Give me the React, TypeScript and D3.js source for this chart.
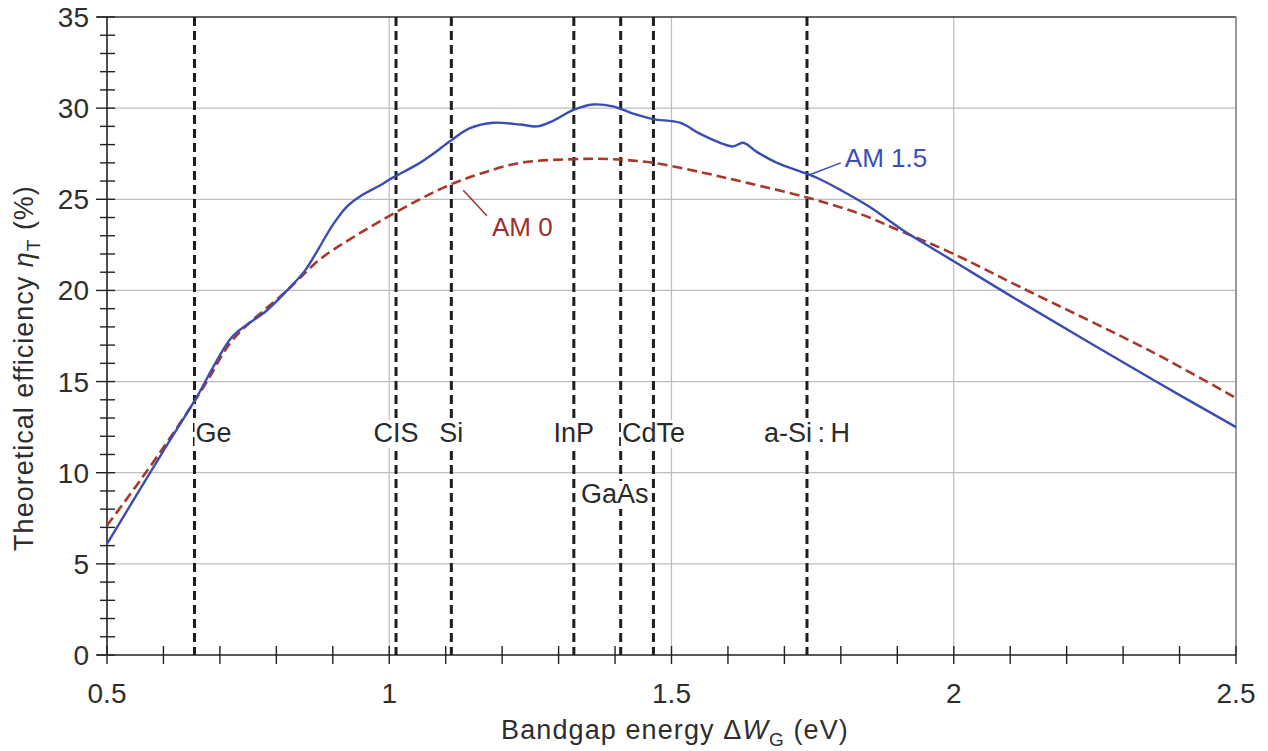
import React, { useRef, useEffect } from 'react';
import * as d3 from 'd3';

// AM 1.5 (solid blue)
const am15Energy = [0.5, 0.6, 0.66, 0.69, 0.723, 0.783, 0.819, 0.851, 0.875, 0.9, 0.925, 0.95, 0.98, 1.007, 1.049, 1.078, 1.108, 1.143, 1.184, 1.232, 1.262, 1.29, 1.326, 1.361, 1.396, 1.432, 1.467, 1.515, 1.55, 1.586, 1.609, 1.627, 1.651, 1.687, 1.74, 1.763, 1.8, 1.85, 1.91, 2.0, 2.117, 2.353, 2.5];
const am15Eff = [6.1, 11.2, 14.2, 15.9, 17.5, 18.9, 20.0, 21.1, 22.3, 23.6, 24.6, 25.2, 25.7, 26.2, 26.9, 27.5, 28.2, 28.9, 29.2, 29.1, 29.0, 29.3, 29.9, 30.2, 30.1, 29.7, 29.4, 29.2, 28.6, 28.1, 27.9, 28.1, 27.6, 27.0, 26.4, 26.1, 25.5, 24.6, 23.3, 21.6, 19.4, 15.1, 12.5];

// AM 0 (dashed red)
const am0Energy = [0.5, 0.564, 0.642, 0.677, 0.723, 0.819, 0.877, 0.93, 0.984, 1.054, 1.108, 1.161, 1.232, 1.326, 1.396, 1.467, 1.55, 1.634, 1.74, 1.834, 1.91, 1.993, 2.117, 2.353, 2.5];
const am0Eff = [7.1, 9.8, 13.3, 15.0, 17.3, 20.0, 21.7, 22.8, 23.8, 25.0, 25.8, 26.4, 27.0, 27.2, 27.2, 27.0, 26.5, 25.9, 25.1, 24.2, 23.2, 22.1, 20.2, 16.6, 14.1];

// semiconductor bandgaps (eV)
const materials = ['Ge', 'CIS', 'Si', 'InP', 'GaAs', 'CdTe', 'a-Si\u2009:\u2009H'];
const materialGap = [0.655, 1.012, 1.11, 1.327, 1.41, 1.468, 1.74];

const xTickLabels = [0.5, 1, 1.5, 2, 2.5];
const yTickLabels = [0, 5, 10, 15, 20, 25, 30, 35];
const xGrid = [1, 1.5, 2];
const yGrid = [5, 10, 15, 20, 25, 30];

const FONT = '"Liberation Sans", Arial, Helvetica, sans-serif';

export default function App() {
  const svgRef = useRef<SVGSVGElement>(null);

  useEffect(() => {
    if (!svgRef.current) return;
    const svg = d3.select(svgRef.current);
    svg.selectAll('*').remove();

    const x = d3.scaleLinear().domain([0.5, 2.5]).range([107, 1236]);
    const y = d3.scaleLinear().domain([0, 35]).range([655, 17]);
    const [x0, x1] = x.range();
    const [y0, y1] = y.range();

    // grid
    svg.append('g').selectAll('line').data(yGrid).enter().append('line')
      .attr('x1', x0).attr('x2', x1)
      .attr('y1', d => y(d)).attr('y2', d => y(d))
      .attr('stroke', '#bdbdbd').attr('stroke-width', 1.2);
    svg.append('g').selectAll('line').data(xGrid).enter().append('line')
      .attr('x1', d => x(d)).attr('x2', d => x(d))
      .attr('y1', y1).attr('y2', y0)
      .attr('stroke', '#bdbdbd').attr('stroke-width', 1.2);

    // frame top / right
    svg.append('line').attr('x1', x0 - 10).attr('x2', x1).attr('y1', y1).attr('y2', y1)
      .attr('stroke', '#333').attr('stroke-width', 1.5);
    svg.append('line').attr('x1', x1).attr('x2', x1).attr('y1', y1).attr('y2', y0)
      .attr('stroke', '#777').attr('stroke-width', 1.5);

    // material dashed lines
    svg.append('g').selectAll('line').data(materialGap).enter().append('line')
      .attr('x1', d => x(d)).attr('x2', d => x(d))
      .attr('y1', y1).attr('y2', y0)
      .attr('stroke', '#1e1e1e').attr('stroke-width', 3)
      .attr('stroke-dasharray', '9,5');

    // material labels with white backing
    const labelG = svg.append('g')
      .attr('font-family', FONT).attr('font-size', 27).attr('fill', '#2a2a2a');
    materials.forEach((m, i) => {
      const isGe = i === 0;
      const row2 = m === 'GaAs';
      const t = labelG.append('text')
        .attr('x', x(materialGap[i]) + (isGe ? 1 : row2 ? -6 : 0))
        .attr('y', row2 ? 503 : 442)
        .attr('text-anchor', isGe ? 'start' : 'middle')
        .text(m);
      const b = (t.node() as SVGTextElement).getBBox();
      labelG.insert('rect', 'text')
        .attr('x', b.x - 1).attr('y', b.y + 2)
        .attr('width', b.width + 2).attr('height', b.height - 2)
        .attr('fill', '#fff');
    });

    // axes
    const ax = svg.append('g').attr('stroke', '#222');
    ax.append('line').attr('x1', x0).attr('x2', x0).attr('y1', y1).attr('y2', y0).attr('stroke-width', 1.6);
    ax.append('line').attr('x1', x0 - 10).attr('x2', x1).attr('y1', y0).attr('y2', y0).attr('stroke-width', 1.6);
    ax.selectAll('.yt').data(d3.range(0, 36, 1)).enter().append('line')
      .attr('x1', d => (d % 5 === 0 ? x0 - 11 : x0 - 7)).attr('x2', x0 + 8)
      .attr('y1', d => y(d)).attr('y2', d => y(d)).attr('stroke-width', 1.4);
    ax.selectAll('.xt').data(d3.range(5, 26, 1).map(d => d / 10)).enter().append('line')
      .attr('x1', d => x(d)).attr('x2', d => x(d))
      .attr('y1', y0 - 9).attr('y2', y0 + 9).attr('stroke-width', 1.4);

    const tl = svg.append('g').attr('font-family', FONT).attr('font-size', 28).attr('fill', '#2e2e2e');
    tl.selectAll('.yl').data(yTickLabels).enter().append('text')
      .attr('x', x0 - 18).attr('y', d => y(d) + 10)
      .attr('text-anchor', 'end').text(d => String(d));
    tl.selectAll('.xl').data(xTickLabels).enter().append('text')
      .attr('x', d => x(d)).attr('y', 703)
      .attr('text-anchor', 'middle').text(d => String(d));

    // curves
    const line = d3.line<[number, number]>()
      .x(d => x(d[0])).y(d => y(d[1]))
      .curve(d3.curveCatmullRom.alpha(0.5));

    svg.append('path')
      .datum(am0Energy.map((e, i) => [e, am0Eff[i]] as [number, number]))
      .attr('fill', 'none').attr('stroke', '#a8382a').attr('stroke-width', 2.6)
      .attr('stroke-dasharray', '10,5').attr('d', line);

    svg.append('path')
      .datum(am15Energy.map((e, i) => [e, am15Eff[i]] as [number, number]))
      .attr('fill', 'none').attr('stroke', '#3a4db5').attr('stroke-width', 2.4)
      .attr('d', line);

    // curve annotations
    svg.append('line')
      .attr('x1', x(1.745)).attr('y1', y(26.35)).attr('x2', x(1.8)).attr('y2', y(27.0))
      .attr('stroke', '#3a4db5').attr('stroke-width', 1.5);
    svg.append('text').attr('x', x(1.807)).attr('y', y(26.75))
      .attr('font-family', FONT).attr('font-size', 26).attr('fill', '#3a4db5').text('AM 1.5');

    svg.append('line')
      .attr('x1', x(1.131)).attr('y1', y(25.5)).attr('x2', x(1.173)).attr('y2', y(24.1))
      .attr('stroke', '#9c2f2e').attr('stroke-width', 1.5);
    svg.append('text').attr('x', x(1.182)).attr('y', y(23.0))
      .attr('font-family', FONT).attr('font-size', 26).attr('fill', '#9c2f2e').text('AM 0');

    // axis titles
    const xt = svg.append('text').attr('x', 675).attr('y', 739)
      .attr('text-anchor', 'middle').attr('font-family', FONT).attr('font-size', 27)
      .attr('letter-spacing', 1.1).attr('fill', '#2e2e2e');
    xt.append('tspan').text('Bandgap energy \u0394');
    xt.append('tspan').attr('font-style', 'italic').text('W');
    xt.append('tspan').attr('font-size', 19).attr('dy', 7).text('G');
    xt.append('tspan').attr('dy', -7).text(' (eV)');

    const yt = svg.append('text')
      .attr('transform', 'translate(33,368) rotate(-90)')
      .attr('text-anchor', 'middle').attr('font-family', FONT).attr('font-size', 27)
      .attr('letter-spacing', 1.0).attr('fill', '#2e2e2e');
    yt.append('tspan').text('Theoretical efficiency ');
    yt.append('tspan').attr('font-style', 'italic').text('\u03B7');
    yt.append('tspan').attr('font-size', 19).attr('dy', 7).text('T');
    yt.append('tspan').attr('dy', -7).text(' (%)');
  }, []);

  return (
    <div style={{ position: 'absolute', left: 0, top: 0 }}>
      <svg ref={svgRef} width={1268} height={751} style={{ display: 'block', background: '#fff' }} />
    </div>
  );
}
